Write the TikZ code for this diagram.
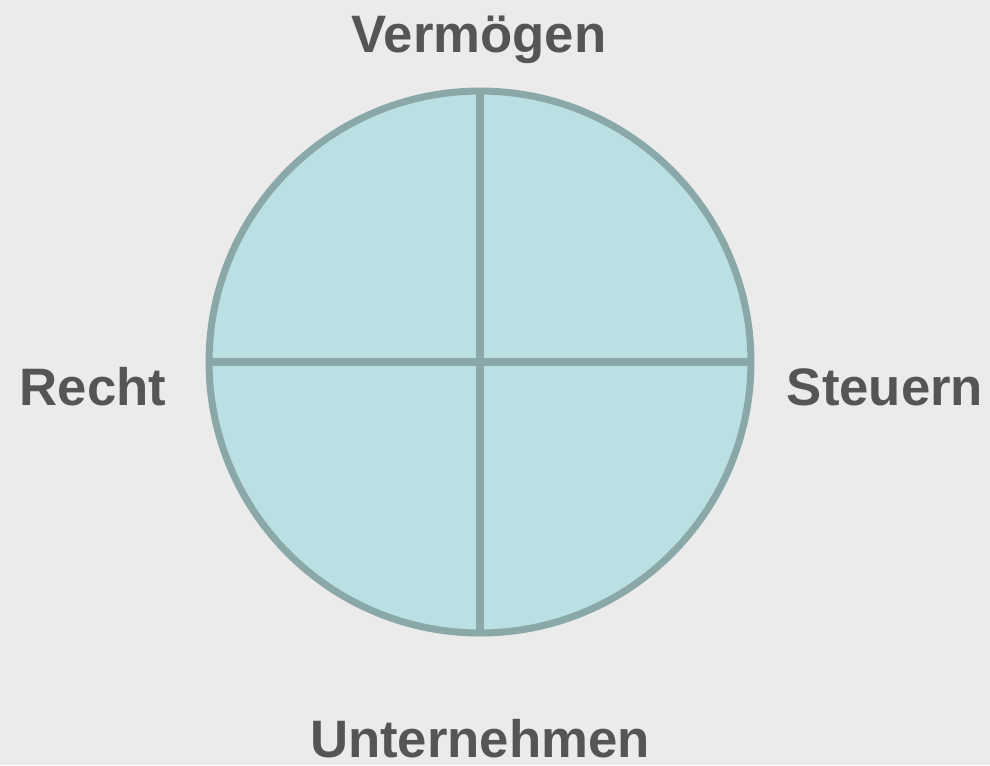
\documentclass[tikz,border=0pt]{standalone}
\usepackage{fontspec}
\setmainfont{Liberation Sans}
\usepackage{xcolor}
\usepackage{tikz}
\usetikzlibrary{positioning}

\definecolor{bgGray}{HTML}{EBEBEB}
\definecolor{rimTeal}{HTML}{8AA8A8}
\definecolor{fillTeal}{HTML}{BBE0E3}
\definecolor{textGray}{HTML}{555555}

\begin{document}
\begin{tikzpicture}[x=0.02cm, y=-0.02cm]
        \tikzstyle{disc} = [circle, draw=rimTeal, fill=fillTeal, line width=4pt, minimum size=10.84cm, inner sep=0pt, outer sep=0pt]
        \tikzstyle{divider} = [draw=rimTeal, line width=4pt]
        \tikzstyle{label} = [anchor=base, inner sep=0pt, text=textGray, font=\fontsize{30}{36}\selectfont\bfseries]

        \fill[bgGray] (0,0) rectangle (990,765);
        \useasboundingbox (0,0) rectangle (990,765);

        \node[disc] (wheel) at (480,362) {};

        \draw[divider] (wheel.north) -- (wheel.south);
        \draw[divider] (wheel.west) -- (wheel.east);

        \node[label] (top) at (479,52) {Vermögen};
        \node[label] (left) at (93,405) {Recht};
        \node[label] (right) at (885,405) {Steuern};
        \node[label] (bottom) at (480,757) {Unternehmen};
    \end{tikzpicture}
\end{document}
